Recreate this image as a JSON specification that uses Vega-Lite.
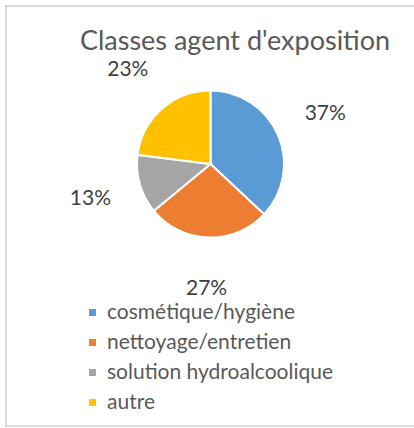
{
  "$schema": "https://vega.github.io/schema/vega-lite/v6.json",
  "autosize": "none",
  "width": 409,
  "height": 420,
  "padding": {"left": 6, "top": 6, "right": -1, "bottom": 2},
  "background": "white",
  "view": {"stroke": "#D9D9D9", "strokeWidth": 2, "fill": "white"},
  "title": {
    "text": "Classes agent d'exposition",
    "font": "Lato",
    "fontSize": 27,
    "fontWeight": "normal",
    "color": "#595959",
    "anchor": "middle",
    "frame": "group",
    "offset": 0,
    "baseline": "alphabetic",
    "dx": 24.5,
    "dy": 71
  },
  "data": {
    "values": [
      {"classe": "cosmétique/hygiène", "part": 0.37, "ordre": 1},
      {"classe": "nettoyage/entretien", "part": 0.27, "ordre": 2},
      {"classe": "solution hydroalcoolique", "part": 0.13, "ordre": 3},
      {"classe": "autre", "part": 0.23, "ordre": 4}
    ]
  },
  "encoding": {
    "theta": {"field": "part", "type": "quantitative", "stack": true},
    "order": {"field": "ordre", "type": "quantitative"}
  },
  "layer": [
    {
      "mark": {"type": "arc", "outerRadius": 73.5, "stroke": "white", "strokeWidth": 2, "y": {"expr": "height/2 - 52"}},
      "encoding": {
        "color": {
          "field": "classe",
          "type": "nominal",
          "sort": ["cosmétique/hygiène", "nettoyage/entretien", "solution hydroalcoolique", "autre"],
          "scale": {
            "domain": ["cosmétique/hygiène", "nettoyage/entretien", "solution hydroalcoolique", "autre"],
            "range": ["#5B9BD5", "#ED7D31", "#A5A5A5", "#FFC000"]
          },
          "legend": {
            "orient": "none",
            "legendX": 76,
            "legendY": 296,
            "title": null,
            "symbolType": "square",
            "symbolSize": 49,
            "symbolStrokeWidth": 0,
            "labelFont": "Lato",
            "labelFontSize": 21,
            "labelColor": "#595959",
            "labelOffset": 4,
            "labelLimit": 0,
            "rowPadding": 8,
            "padding": 0
          }
        }
      }
    },
    {
      "mark": {"type": "text", "radius": 125, "font": "Lato", "fontSize": 21, "fill": "#404040", "y": {"expr": "height/2 - 52"}},
      "encoding": {
        "detail": {"field": "classe", "type": "nominal"},
        "text": {"field": "part", "type": "quantitative", "format": ".0%"}
      }
    }
  ]
}
